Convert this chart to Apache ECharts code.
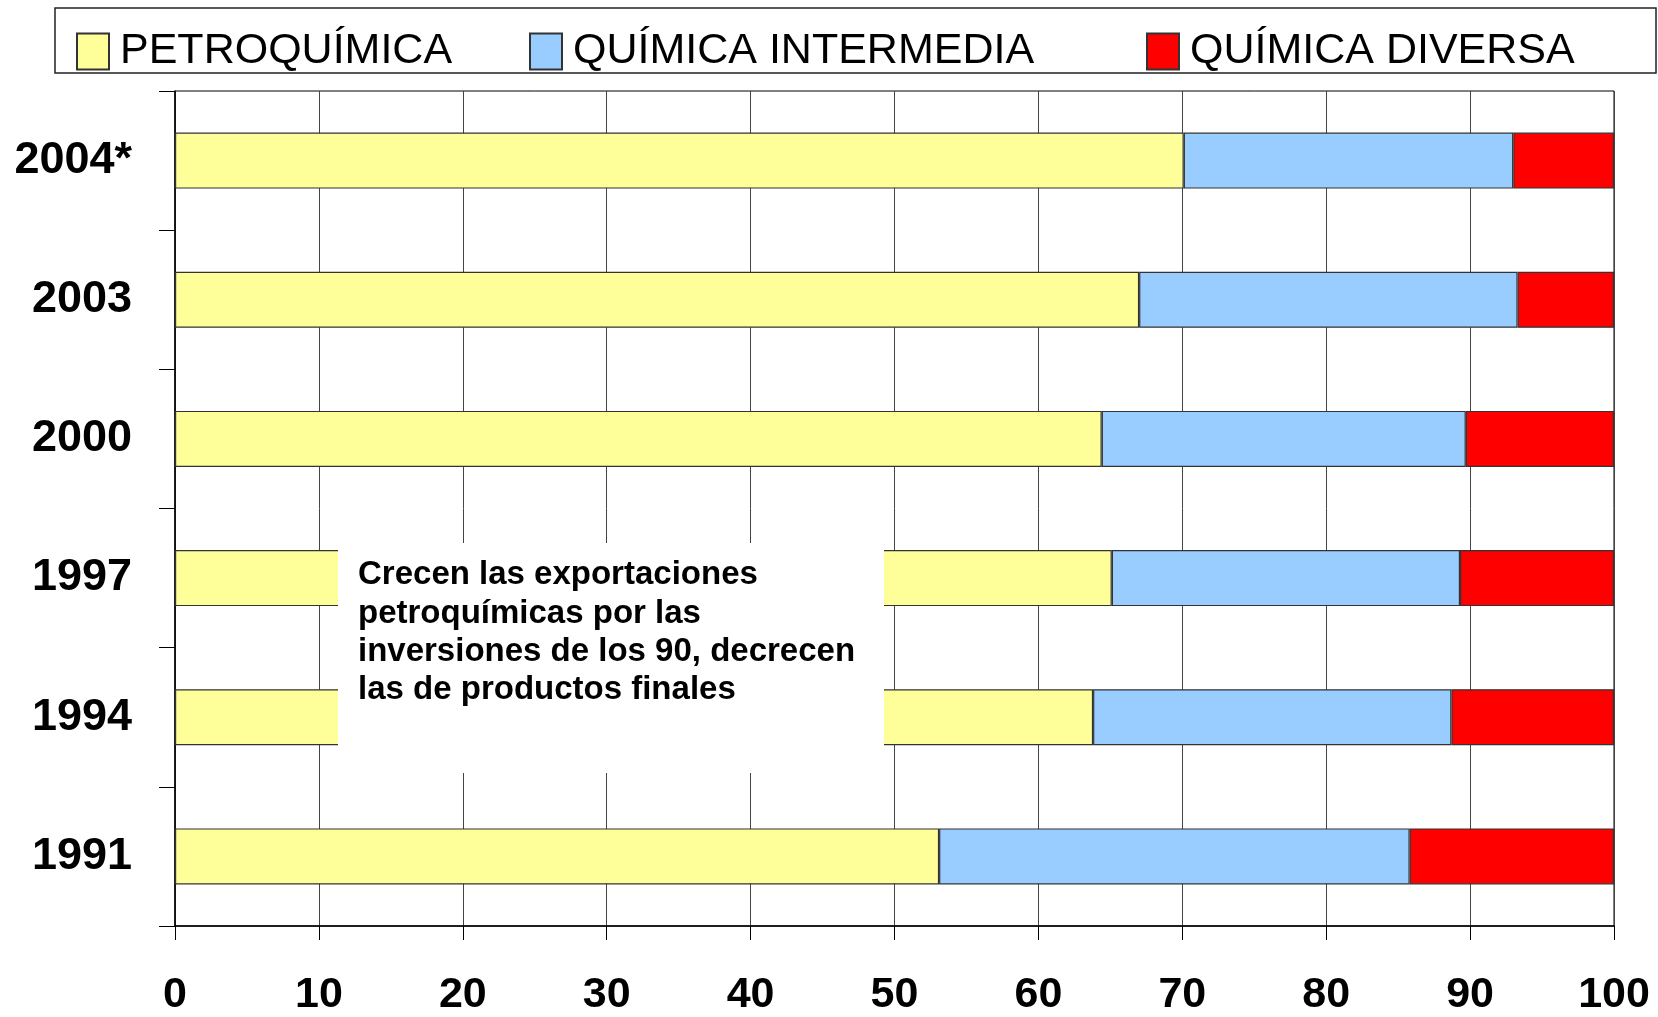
<!DOCTYPE html>
<html>
<head>
<meta charset="utf-8">
<script src="https://cdn.jsdelivr.net/npm/echarts@6/dist/echarts.min.js"></script>
<style>
  html, body { margin: 0; padding: 0; background: #fff; }
  #chart { width: 1658px; height: 1017px; }
</style>
</head>
<body>
<div id="chart"></div>
<script>
// years, bottom to top
const years = ['1991', '1994', '1997', '2000', '2003', '2004*'];

// share of exports (%) per group
const petroquimica = [53.1, 63.8, 65.1, 64.4, 67.0, 70.1];
const quimicaIntermedia = [32.7, 24.9, 24.2, 25.3, 26.3, 22.9];
const quimicaDiversa = [14.2, 11.3, 10.7, 10.3, 6.7, 7.0];

const seriesNames = ['PETROQUÍMICA', 'QUÍMICA INTERMEDIA', 'QUÍMICA DIVERSA'];
const seriesColors = ['#FFFF99', '#99CCFF', '#FF0000'];

const noteLines = [
  'Crecen las exportaciones',
  'petroquímicas por las',
  'inversiones de los 90, decrecen',
  'las de productos finales'
];

const chart = echarts.init(document.getElementById('chart'));

// one legend per series so each item sits where it does in the original
function legendFor(name, left) {
  return {
    data: [name],
    left: left,
    top: 25,
    icon: 'rect',
    itemWidth: 32,
    itemHeight: 36,
    itemGap: 0,
    selectedMode: false,
    textStyle: {
      fontFamily: 'Liberation Sans',
      fontSize: 43,
      color: '#000',
      padding: [0, 0, 0, 6]
    }
  };
}

function barSeries(name, data, color) {
  return {
    name: name,
    type: 'bar',
    stack: 'total',
    data: data,
    barWidth: 56,
    itemStyle: { color: color, borderColor: '#333', borderWidth: 1.2 },
    emphasis: { disabled: true }
  };
}

chart.setOption({
  animation: false,
  backgroundColor: '#fff',
  legend: [
    legendFor(seriesNames[0], 71),
    legendFor(seriesNames[1], 524),
    legendFor(seriesNames[2], 1141)
  ],
  grid: {
    left: 175, right: 44, top: 91, bottom: 88,
    show: true, borderColor: '#000', borderWidth: 1, backgroundColor: 'transparent'
  },
  xAxis: {
    type: 'value',
    min: 0, max: 100, interval: 10,
    axisLine: { show: true, lineStyle: { color: '#000', width: 1.5 } },
    axisTick: { show: true, length: 14, lineStyle: { color: '#000' } },
    splitLine: { show: true, lineStyle: { color: '#444', width: 1 } },
    axisLabel: {
      margin: 48,
      fontFamily: 'Liberation Sans',
      fontWeight: 'bold',
      fontSize: 43,
      color: '#000'
    }
  },
  yAxis: {
    type: 'category',
    data: years,
    axisLine: { show: true, lineStyle: { color: '#000', width: 1.5 } },
    axisTick: { show: true, length: 16, lineStyle: { color: '#000' } },
    axisLabel: {
      margin: 43,
      fontFamily: 'Liberation Sans',
      fontWeight: 'bold',
      fontSize: 45,
      color: '#000'
    }
  },
  graphic: [
    {
      type: 'rect',
      z: 100,
      shape: { x: 55, y: 8, width: 1601, height: 65 },
      style: { fill: 'none', stroke: '#222', lineWidth: 1.5 }
    },
    {
      type: 'rect',
      z: 100,
      shape: { x: 338, y: 543, width: 546, height: 230 },
      style: { fill: '#fff' }
    },
    {
      type: 'text',
      z: 101,
      x: 358,
      y: 556,
      style: {
        text: noteLines.join('\n'),
        font: 'bold 33px "Liberation Sans"',
        lineHeight: 38.4,
        fill: '#000',
        textAlign: 'left',
        textVerticalAlign: 'top'
      }
    }
  ],
  series: [
    barSeries(seriesNames[0], petroquimica, seriesColors[0]),
    barSeries(seriesNames[1], quimicaIntermedia, seriesColors[1]),
    barSeries(seriesNames[2], quimicaDiversa, seriesColors[2])
  ]
});
</script>
</body>
</html>
